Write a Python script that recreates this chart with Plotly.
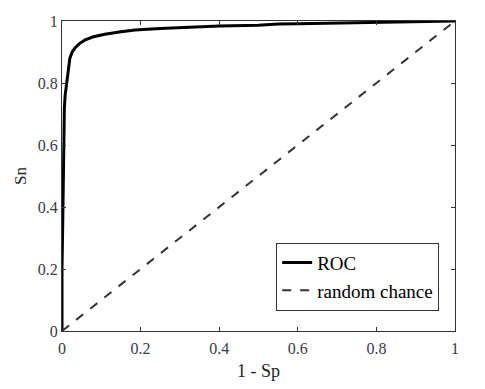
import plotly.graph_objects as go

# ROC curve values
fpr = [0, 0, 0.002, 0.003, 0.004, 0.006, 0.008, 0.012, 0.016, 0.02, 0.026, 0.033,
       0.045, 0.059, 0.08, 0.109, 0.15, 0.186, 0.25, 0.3, 0.4, 0.5, 0.55, 0.6,
       0.7, 0.8, 0.9, 0.95, 1.0]
tpr = [0, 0.2, 0.36, 0.5, 0.67, 0.72, 0.76, 0.8, 0.845, 0.88, 0.9, 0.913,
       0.928, 0.939, 0.949, 0.957, 0.965, 0.971, 0.976, 0.979, 0.984, 0.986, 0.99, 0.991,
       0.993, 0.994, 0.996, 0.998, 1.0]

chance_x = [0, 1]
chance_y = [0, 1]

tick_vals = [0, 0.2, 0.4, 0.6, 0.8, 1]
tick_text = ["0", "0.2", "0.4", "0.6", "0.8", "1"]

serif = "Liberation Serif, Times New Roman, serif"

fig = go.Figure()
fig.add_trace(go.Scatter(x=fpr, y=tpr, mode="lines", name="ROC",
                         line=dict(color="black", width=3)))
fig.add_trace(go.Scatter(x=chance_x, y=chance_y, mode="lines", name="random chance",
                         line=dict(color="#333333", width=2, dash="dash")))

axis_style = dict(
    range=[0, 1], tickvals=tick_vals, ticktext=tick_text,
    ticks="inside", ticklen=4, tickcolor="#333333",
    showline=True, linecolor="#333333", linewidth=1, mirror="ticks",
    showgrid=False, zeroline=False, automargin=False,
    tickfont=dict(family=serif, size=16, color="#3a3a4a"),
)

fig.update_layout(
    width=485, height=389,
    margin=dict(l=62, r=30, t=21, b=58),
    paper_bgcolor="white", plot_bgcolor="white",
    xaxis=dict(axis_style, ticklabelstandoff=3,
               title=dict(text="1 - Sp", font=dict(family=serif, size=18, color="#222222"), standoff=8)),
    yaxis=dict(axis_style,
               title=dict(text="Sn", font=dict(family=serif, size=17, color="#222222"), standoff=6)),
    legend=dict(x=0.545, y=0.285, xanchor="left", yanchor="top",
                bordercolor="#333333", borderwidth=1, bgcolor="white",
                font=dict(family=serif, size=19, color="black"),
                tracegroupgap=0, itemwidth=30),
    showlegend=True,
)

# drop the browser's default body margin so the figure sits at the page corner
fig.write_html("out.html", config={"displayModeBar": False},
               post_script="document.body.style.margin='0';")
